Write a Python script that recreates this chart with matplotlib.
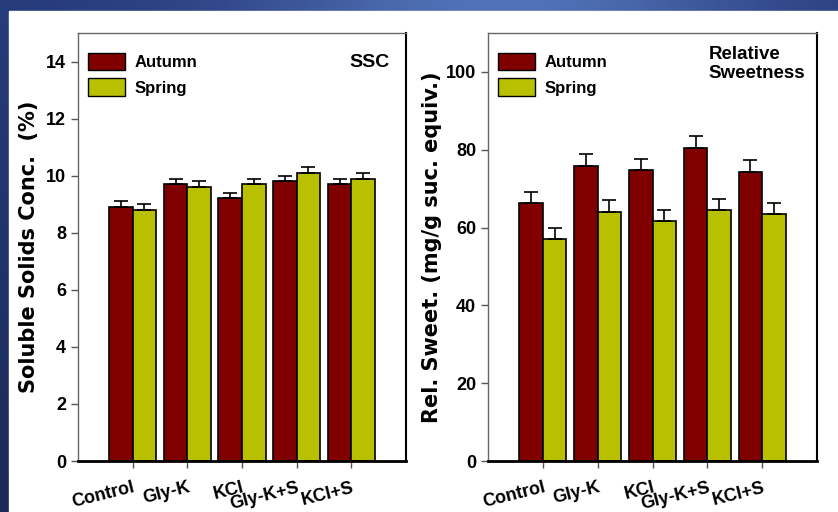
import numpy as np
import matplotlib.pyplot as plt
from matplotlib.patches import Rectangle, Patch
from matplotlib.transforms import ScaledTranslation

# ==================== Data ====================
treatments = ['Control', 'Gly-K', 'KCl', 'Gly-K+S', 'KCl+S']

ssc_autumn = [8.9, 9.7, 9.2, 9.8, 9.7]
ssc_spring = [8.8, 9.6, 9.7, 10.1, 9.9]
ssc_autumn_err = [0.2, 0.2, 0.2, 0.2, 0.2]
ssc_spring_err = [0.2, 0.2, 0.2, 0.2, 0.2]

sweet_autumn = [66.2, 75.9, 74.7, 80.4, 74.4]
sweet_spring = [57.0, 64.1, 61.7, 64.4, 63.4]
sweet_autumn_err = [2.9, 2.9, 2.9, 3.0, 2.9]
sweet_spring_err = [2.8, 2.9, 2.9, 2.9, 3.0]

# ==================== Style ====================
plt.rcParams['font.family'] = ['Liberation Sans', 'DejaVu Sans']
plt.rcParams['font.weight'] = 'bold'

autumn_col = '#800000'
spring_col = '#b9c000'

fig = plt.figure(figsize=(8.38, 5.12), dpi=100)

# blue slide background with white panel
bg = fig.add_axes([0, 0, 1, 1], zorder=-10)
gx = np.linspace(0, 1, 200)
gy = np.linspace(0, 1, 100)
top_col = np.array([[0.15, 0.23, 0.48]]) + np.outer(np.exp(-((gx - 0.6) / 0.3) ** 2), [0.17, 0.22, 0.24])
bg.imshow(np.tile(top_col[None, :, :], (100, 1, 1)).clip(0, 1) * (1 - 0.3 * gy[:, None, None]),
          extent=[0, 1, 0, 1], aspect='auto', origin='upper')
bg.add_patch(Rectangle((9 / 838, 0), 1, 1 - 11 / 512, color='white'))
bg.set_xlim(0, 1)
bg.set_ylim(0, 1)
bg.axis('off')

ax1 = fig.add_axes([78 / 838, 1 - 461 / 512, 328 / 838, 428 / 512])
ax2 = fig.add_axes([488 / 838, 1 - 461 / 512, 329 / 838, 428 / 512])

x = np.arange(1, len(treatments) + 1)
w = 0.43

label_shift = [(0, 0), (0, 0), (0, 5), (6, -4), (0, 0)]


def draw(ax, aut, spr, aerr, serr, ymax, ystep, ylabel, label_x):
    ax.bar(x - w / 2, aut, w, color=autumn_col, edgecolor='black', linewidth=1.2,
           yerr=[np.zeros(len(aut)), aerr], error_kw=dict(ecolor='black', elinewidth=1.2,
                                                          capsize=5, capthick=1.2), zorder=2)
    ax.bar(x + w / 2, spr, w, color=spring_col, edgecolor='black', linewidth=1.2,
           yerr=[np.zeros(len(spr)), serr], error_kw=dict(ecolor='black', elinewidth=1.2,
                                                          capsize=5, capthick=1.2), zorder=2)
    ax.set_xlim(0, 6)
    ax.set_ylim(0, ymax)
    ax.set_yticks(np.arange(0, ymax, ystep))
    ax.set_xticks(x)
    ax.set_xticklabels(treatments, rotation=14, ha='right', rotation_mode='anchor')
    for lab, (dx, dy) in zip(ax.get_xticklabels(), label_shift):
        lab.set_transform(lab.get_transform() + ScaledTranslation(dx / 100, dy / 100, fig.dpi_scale_trans))
    ax.tick_params(axis='both', labelsize=13, length=5, width=1, color='#555555')
    ax.tick_params(axis='x', pad=8)
    ax.set_ylabel(ylabel, fontsize=15, fontweight='bold', family=['DejaVu Sans'])
    ax.yaxis.set_label_coords(label_x, 0.5)
    for s in ['left', 'top']:
        ax.spines[s].set_color('#666666')
        ax.spines[s].set_linewidth(1)
    ax.spines['right'].set_color('black')
    ax.spines['right'].set_linewidth(1.5)
    ax.spines['bottom'].set_color('black')
    ax.spines['bottom'].set_linewidth(2)
    handles = [Patch(facecolor=autumn_col, edgecolor='black', label='Autumn'),
               Patch(facecolor=spring_col, edgecolor='black', label='Spring')]
    ax.legend(handles=handles, loc='upper left', frameon=False, fontsize=12,
              handlelength=2.2, handleheight=1.2, handletextpad=0.6, labelspacing=0.5,
              borderaxespad=0.0, borderpad=0.0, bbox_to_anchor=(10 / 328, 1 - 20 / 428))


draw(ax1, ssc_autumn, ssc_spring, ssc_autumn_err, ssc_spring_err, 15, 2,
     'Soluble Solids Conc.  (%)', -0.118)
draw(ax2, sweet_autumn, sweet_spring, sweet_autumn_err, sweet_spring_err, 110, 20,
     'Rel. Sweet. (mg/g suc. equiv.)', -0.14)
ax1.set_yticks(np.arange(0, 15, 2))
ax2.set_yticks(np.arange(0, 101, 20))

ax1.text(0.95, 0.95, 'SSC', transform=ax1.transAxes, ha='right', va='top', fontsize=14)
ax2.text(0.67, 0.97, 'Relative\nSweetness', transform=ax2.transAxes, ha='left', va='top',
         fontsize=13.5, linespacing=1.15)

fig.savefig('out.png', dpi=100)
